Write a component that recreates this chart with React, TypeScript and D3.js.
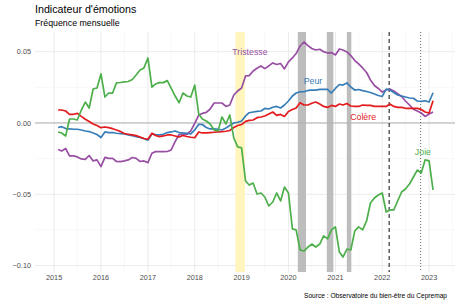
import React from 'react';
import * as d3 from 'd3';

// monthly index, Feb 2015 -> Feb 2023
const months = d3.timeMonth.range(new Date(2015, 1, 1), new Date(2023, 2, 1));

const joie = [
  -0.0063, -0.007, -0.0091, 0.0028, 0.0028, 0.0021, 0.0091, 0.0147, 0.0105, 0.0238, 0.0245, 0.0344,
  0.0182, 0.021, 0.021, 0.0281, 0.0284, 0.0288, 0.0291, 0.0305, 0.0337, 0.0372, 0.0386, 0.0456,
  0.0252, 0.0273, 0.0283, 0.0283, 0.0297, 0.0245, 0.0189, 0.0142, 0.021, 0.0189, 0.0182, 0.0266,
  0.0063, 0.0028, 0.0014, -0.0007, -0.0049, -0.0056, 0.0042, -0.0007, 0.0056, -0.0105, -0.0168, -0.0175,
  -0.0407, -0.0435, -0.0421, -0.0498, -0.0491, -0.0519, -0.0582, -0.0554, -0.0491, -0.0547, -0.0449, -0.0491,
  -0.0743, -0.075, -0.0891, -0.0898, -0.087, -0.0849, -0.087, -0.0849, -0.0792, -0.0813, -0.075, -0.0729,
  -0.0905, -0.094, -0.0884, -0.0891, -0.0757, -0.0729, -0.075, -0.0687, -0.0561, -0.0526, -0.0505, -0.0491,
  -0.0624, -0.061, -0.061, -0.0547, -0.0484, -0.0463, -0.0428, -0.0379, -0.033, -0.0351, -0.0259, -0.0266,
  -0.047,
];

const tristesse = [
  -0.0186, -0.0196, -0.0179, -0.0231, -0.0231, -0.0238, -0.0252, -0.0255, -0.0228, -0.0266, -0.0259, -0.0306,
  -0.0241, -0.0248, -0.0248, -0.027, -0.0271, -0.0266, -0.0259, -0.0242, -0.0248, -0.027, -0.0266, -0.0278,
  -0.0212, -0.0201, -0.0201, -0.0201, -0.02, -0.0189, -0.0131, -0.0081, -0.0079, -0.0079, -0.0056, -0.0002,
  0.0055, 0.0067, 0.0074, 0.0098, 0.014, 0.014, 0.014, 0.0116, 0.0126, 0.0196, 0.0224, 0.0245,
  0.033, 0.0332, 0.0365, 0.0384, 0.04, 0.0381, 0.04, 0.0421, 0.041, 0.0417, 0.0379, 0.0428,
  0.0456, 0.0487, 0.054, 0.0568, 0.0543, 0.0522, 0.0512, 0.0517, 0.05, 0.0491, 0.0494, 0.0477,
  0.0519, 0.0512, 0.0498, 0.0473, 0.0438, 0.0414, 0.0386, 0.0354, 0.0302, 0.0263, 0.0242, 0.0217,
  0.0231, 0.0238, 0.0224, 0.0205, 0.0186, 0.0154, 0.0126, 0.0096, 0.0084, 0.007, 0.0046, 0.0063,
  0.0077,
];

const peur = [
  -0.0032, -0.0026, -0.0039, -0.0042, -0.0044, -0.0044, -0.0049, -0.0056, -0.006, -0.007, -0.0081, -0.0102,
  -0.0063, -0.0067, -0.0067, -0.0072, -0.0074, -0.0077, -0.0084, -0.0089, -0.0096, -0.0102, -0.011, -0.0121,
  -0.0077, -0.0081, -0.0084, -0.0079, -0.0067, -0.0063, -0.0056, -0.0067, -0.007, -0.0072, -0.0077, -0.0049,
  -0.0009, -0.0011, -0.0032, -0.0042, -0.0042, -0.0044, -0.0049, -0.0035, -0.0018, 0.0, 0.0005, 0.0014,
  0.0049, 0.0072, 0.0077, 0.0081, 0.0084, 0.0102, 0.0098, 0.011, 0.0116, 0.0105, 0.0126, 0.0154,
  0.0189, 0.021, 0.0219, 0.0219, 0.0228, 0.0231, 0.0231, 0.0236, 0.0236, 0.0235, 0.021, 0.0242,
  0.027, 0.0266, 0.0281, 0.0252, 0.0231, 0.0235, 0.0227, 0.0221, 0.0214, 0.0203, 0.0193, 0.0186,
  0.0238, 0.0231, 0.0214, 0.0196, 0.0189, 0.0182, 0.0175, 0.0173, 0.0154, 0.0151, 0.0156, 0.0147,
  0.0212,
];

const colere = [
  0.0091, 0.0091, 0.0084, 0.0061, 0.0061, 0.0067, 0.0046, 0.0026, 0.0011, -0.0007, -0.0018, -0.0033,
  -0.0028, -0.0033, -0.004, -0.0049, -0.006, -0.0074, -0.0079, -0.0084, -0.0089, -0.0098, -0.0109, -0.0114,
  -0.0072, -0.0088, -0.0096, -0.0091, -0.0084, -0.0084, -0.0091, -0.0098, -0.0088, -0.0095, -0.01, -0.0103,
  -0.0063, -0.007, -0.007, -0.0067, -0.0065, -0.0063, -0.0061, -0.0058, -0.0053, -0.0032, -0.0018, -0.0011,
  0.0011, 0.0018, 0.0021, 0.0037, 0.0042, 0.0049, 0.0063, 0.0077, 0.0053, 0.006, 0.0046, 0.0081,
  0.0095, 0.0105, 0.0142, 0.0126, 0.0126, 0.0138, 0.0147, 0.0133, 0.0116, 0.0109, 0.0123, 0.0116,
  0.0133, 0.0126, 0.0137, 0.0119, 0.0116, 0.0116, 0.0126, 0.0123, 0.0123, 0.0116, 0.0116, 0.0116,
  0.0116, 0.0133, 0.0116, 0.0109, 0.0109, 0.0103, 0.0102, 0.0102, 0.0102, 0.0095, 0.0077, 0.007,
  0.0156,
];

// gilets jaunes + confinements
const yellowPeriods = [[new Date(2018, 10, 14), new Date(2019, 0, 27)]];
const lockdowns = [
  [new Date(2020, 2, 14), new Date(2020, 4, 17)],
  [new Date(2020, 9, 26), new Date(2020, 11, 16)],
  [new Date(2021, 2, 31), new Date(2021, 4, 5)],
];
const dashedDate = new Date(2022, 1, 24);
const dottedDate = new Date(2022, 9, 27);

const yTicks = [-0.1, -0.05, 0, 0.05];
const yMinor = [-0.075, -0.025, 0.025];

const series = [
  { name: 'Tristesse', values: tristesse, color: '#984EA3', at: new Date(2019, 2, 7), v: 0.0498 },
  { name: 'Peur', values: peur, color: '#377EB8', at: new Date(2020, 6, 10), v: 0.0297 },
  { name: 'Colère', values: colere, color: '#E41A1C', at: new Date(2021, 7, 5), v: 0.0044 },
  { name: 'Joie', values: joie, color: '#4DAF4A', at: new Date(2022, 10, 14), v: -0.0203 },
];

const W = 460;
const H = 306;
const panel = { left: 35, right: 455, top: 32, bottom: 272 };
const font = "'Liberation Sans', Arial, sans-serif";

export default function App() {
  const x = d3.scaleTime()
    .domain([new Date(2014, 7, 5), new Date(2023, 6, 22)])
    .range([panel.left, panel.right]);
  const y = d3.scaleLinear()
    .domain([-0.1045, 0.0638])
    .range([panel.bottom, panel.top]);

  const years = x.ticks(d3.timeYear.every(1));
  const halfYears = d3.timeMonth.range(new Date(2014, 6, 1), new Date(2024, 0, 1), 12)
    .filter(d => x(d) >= panel.left && x(d) <= panel.right);

  const line = d3.line<number>()
    .x((_, i) => x(months[i]))
    .y(d => y(d));

  return (
    <svg width={W} height={H} style={{ position: 'fixed', left: 0, top: 0, background: '#fff' }} fontFamily={font}>
      <rect width={W} height={H} fill="#fff" />

      {/* grid */}
      {yMinor.map(t => (
        <line key={'ym' + t} x1={panel.left} x2={panel.right} y1={y(t)} y2={y(t)} stroke="#f0f0f0" strokeWidth={0.5} />
      ))}
      {halfYears.map(d => (
        <line key={'xm' + d.getTime()} x1={x(d)} x2={x(d)} y1={panel.top} y2={panel.bottom} stroke="#f0f0f0" strokeWidth={0.5} />
      ))}
      {yTicks.map(t => (
        <line key={'y' + t} x1={panel.left} x2={panel.right} y1={y(t)} y2={y(t)} stroke="#e6e6e6" strokeWidth={0.8} />
      ))}
      {years.map(d => (
        <line key={'x' + d.getTime()} x1={x(d)} x2={x(d)} y1={panel.top} y2={panel.bottom} stroke="#e6e6e6" strokeWidth={0.8} />
      ))}

      {/* periods */}
      {yellowPeriods.map(([a, b], i) => (
        <rect key={'yp' + i} x={x(a)} width={x(b) - x(a)} y={panel.top} height={panel.bottom - panel.top} fill="#fff5bd" />
      ))}
      {lockdowns.map(([a, b], i) => (
        <rect key={'lk' + i} x={x(a)} width={x(b) - x(a)} y={panel.top} height={panel.bottom - panel.top} fill="#bdbdbd" />
      ))}

      <line x1={panel.left} x2={panel.right} y1={y(0)} y2={y(0)} stroke="#b0b0b0" strokeWidth={1} />

      <line x1={x(dashedDate)} x2={x(dashedDate)} y1={panel.top} y2={panel.bottom} stroke="#333" strokeWidth={1.2} strokeDasharray="4,3" />
      <line x1={x(dottedDate)} x2={x(dottedDate)} y1={panel.top} y2={panel.bottom} stroke="#444" strokeWidth={0.8} strokeDasharray="1,2" />

      {series.map(s => (
        <path key={s.name} d={line(s.values) ?? ''} fill="none" stroke={s.color} strokeWidth={1.7} strokeLinejoin="round" />
      ))}
      {series.map(s => (
        <text key={'l' + s.name} x={x(s.at)} y={y(s.v)} dy="0.35em" textAnchor="middle" fontSize={8.8} fill={s.color}>
          {s.name}
        </text>
      ))}

      {/* axes labels */}
      {yTicks.map(t => (
        <text key={'yl' + t} x={31} y={y(t)} dy="0.35em" textAnchor="end" fontSize={7.3} fill="#4d4d4d">
          {d3.format('.2f')(t)}
        </text>
      ))}
      {years.map(d => (
        <text key={'xl' + d.getTime()} x={x(d)} y={277} dy="0.35em" textAnchor="middle" fontSize={7.3} fill="#4d4d4d">
          {d.getFullYear()}
        </text>
      ))}

      <text x={35} y={13} fontSize={10.7} fill="#000">Indicateur d'émotions</text>
      <text x={35} y={26} fontSize={8.8} fill="#000">Fréquence mensuelle</text>
      <text x={447} y={298} textAnchor="end" fontSize={6.6} fill="#000">Source : Observatoire du bien-être du Cepremap</text>
    </svg>
  );
}
